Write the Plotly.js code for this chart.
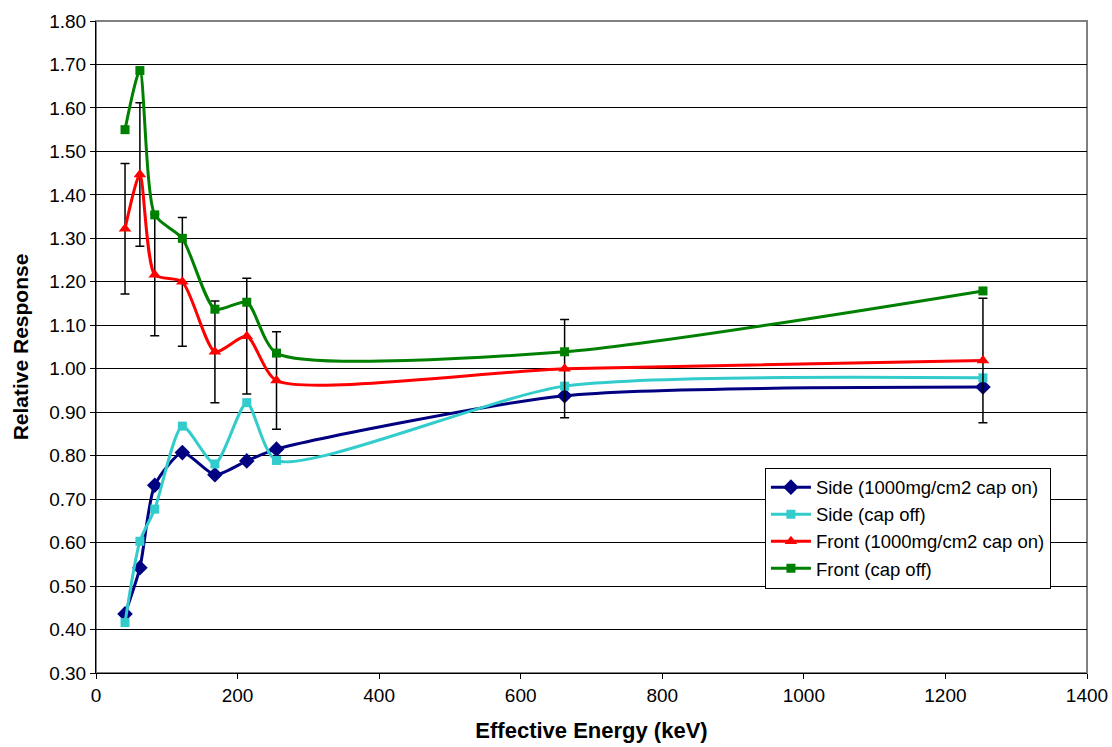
<!DOCTYPE html>
<html>
<head>
<meta charset="utf-8">
<script src="https://cdn.plot.ly/plotly-3.0.1.min.js"></script>
<style>
  html, body { margin: 0; padding: 0; background: #fff; }
  #chart { width: 1112px; height: 747px; }
</style>
</head>
<body>
<div id="chart"></div>
<script>
// Effective photon energy (keV) of each beam
const energyKeV = [41, 62, 83, 122, 168, 213, 255, 662, 1253];

// Relative response for each orientation / cap configuration
const sideCapOn   = [0.436, 0.542, 0.732, 0.807, 0.756, 0.788, 0.815, 0.938, 0.958];
const sideCapOff  = [0.416, 0.603, 0.677, 0.868, 0.781, 0.922, 0.789, 0.960, 0.979];
const frontCapOn  = [1.322, 1.447, 1.216, 1.200, 1.039, 1.075, 0.973, 1.000, 1.019];
const frontCapOff = [1.550, 1.686, 1.354, 1.300, 1.137, 1.153, 1.036, 1.039, 1.179];

// Uncertainty on the front (cap on) response
const frontCapOnErr = [0.150, 0.165, 0.140, 0.148, 0.117, 0.133, 0.112, 0.113, 0.143];

const seriesNames = [
  'Side (1000mg/cm2 cap on)',
  'Side (cap off)',
  'Front (1000mg/cm2 cap on)',
  'Front (cap off)'
];

const font = 'Liberation Sans, Arial, sans-serif';

function series(name, y, color, symbol, size, extra) {
  return Object.assign({
    type: 'scatter',
    mode: 'lines+markers',
    name: name,
    x: energyKeV,
    y: y,
    line: { color: color, width: 3, shape: 'spline', smoothing: 0.65 },
    marker: { color: color, symbol: symbol, size: size }
  }, extra || {});
}

const traces = [
  series(seriesNames[0], sideCapOn, '#000080', 'diamond', 12),
  series(seriesNames[1], sideCapOff, '#33CCCC', 'square', 9),
  series(seriesNames[2], frontCapOn, '#FF0000', 'triangle-up', 11, {
    error_y: {
      type: 'data', array: frontCapOnErr, visible: true,
      color: '#000000', thickness: 1.5, width: 4.5
    }
  }),
  series(seriesNames[3], frontCapOff, '#008000', 'square', 9)
];

const layout = {
  width: 1112,
  height: 747,
  margin: { l: 96, r: 25, t: 21, b: 74 },
  paper_bgcolor: '#ffffff',
  plot_bgcolor: '#ffffff',
  font: { family: font, size: 18, color: '#000000' },
  showlegend: true,
  legend: {
    x: 0.675, y: 0.315, xanchor: 'left', yanchor: 'top',
    bgcolor: '#ffffff', bordercolor: '#000000', borderwidth: 1,
    font: { family: font, size: 18.5, color: '#000000' },
    tracegroupgap: 0, itemwidth: 40
  },
  xaxis: {
    range: [0, 1400],
    dtick: 200,
    tick0: 0,
    showgrid: false,
    zeroline: false,
    showline: true, linecolor: '#000000', linewidth: 1,
    ticks: 'outside', ticklen: 5, tickcolor: '#000000',
    tickfont: { family: font, size: 19 },
    title: { text: '<b>Effective Energy (keV)</b>', font: { family: font, size: 22 }, standoff: 17 }
  },
  yaxis: {
    range: [0.30, 1.80],
    dtick: 0.1,
    tick0: 0.3,
    tickformat: '.2f',
    showgrid: true, gridcolor: '#000000', gridwidth: 1,
    zeroline: false,
    showline: true, linecolor: '#000000', linewidth: 1,
    ticks: 'outside', ticklen: 5, tickcolor: '#000000',
    tickfont: { family: font, size: 19 },
    title: { text: '<b>Relative Response</b>', font: { family: font, size: 21 }, standoff: 14 }
  },
  shapes: [{
    type: 'rect', xref: 'paper', yref: 'paper',
    x0: 0, x1: 1, y0: 0, y1: 1,
    line: { color: '#808080', width: 2 }, layer: 'below'
  }]
};

Plotly.newPlot('chart', traces, layout, { staticPlot: true, displayModeBar: false });
</script>
</body>
</html>
